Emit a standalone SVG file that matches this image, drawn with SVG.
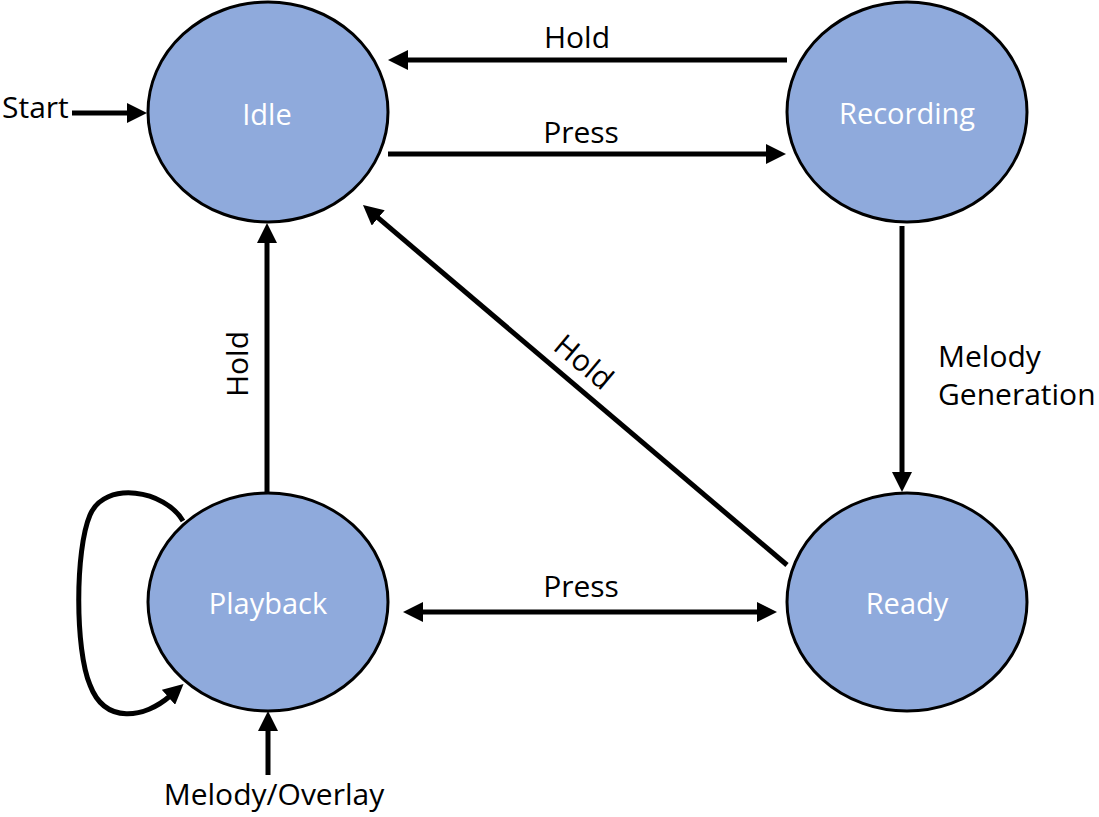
<svg xmlns="http://www.w3.org/2000/svg" width="1099" height="817" viewBox="0 0 1099 817">
  <style>
    .state { fill: #8FAADC; stroke: #000; stroke-width: 3; }
    .slabel { font-family: "Open Sans", "Liberation Sans", sans-serif; font-size: 29px; fill: #fff; text-anchor: middle; }
    .elabel { font-family: "Open Sans", "Liberation Sans", sans-serif; font-size: 30px; fill: #000; }
    .edge { stroke: #000; stroke-width: 5; fill: none; }
  </style>
  <defs>
    <marker id="arrow" viewBox="0 0 20 20" markerWidth="20" markerHeight="20" markerUnits="userSpaceOnUse" refX="2" refY="10" orient="auto-start-reverse">
      <path d="M0,0 L20,10 L0,20 z" fill="#000"/>
    </marker>
  </defs>
  <rect width="1099" height="817" fill="#fff"/>

  <g id="connectors">
    <line class="edge" x1="72" y1="113" x2="129" y2="113" marker-end="url(#arrow)"/>
    <line class="edge" x1="787" y1="60" x2="406" y2="60" marker-end="url(#arrow)"/>
    <line class="edge" x1="388" y1="154" x2="768" y2="154" marker-end="url(#arrow)"/>
    <line class="edge" x1="902" y1="226" x2="902" y2="474" marker-end="url(#arrow)"/>
    <line class="edge" x1="787" y1="565" x2="376.7" y2="216.7" marker-end="url(#arrow)"/>
    <line class="edge" x1="267" y1="494" x2="267" y2="241" marker-end="url(#arrow)"/>
    <line class="edge" x1="421" y1="612" x2="759" y2="612" marker-start="url(#arrow)" marker-end="url(#arrow)"/>
    <line class="edge" x1="268" y1="775" x2="268" y2="729" marker-end="url(#arrow)"/>
    <path class="edge" d="M 183 521 C 165 490, 105 480, 90 515 C 75 550, 75 650, 90 685 C 105 725, 145 718, 170 696" marker-end="url(#arrow)"/>
  </g>

  <g id="edge-labels">
    <text class="elabel" x="2" y="118">Start</text>
    <text class="elabel" x="577" y="48" text-anchor="middle">Hold</text>
    <text class="elabel" x="581" y="143" text-anchor="middle">Press</text>
    <text class="elabel" x="581" y="597" text-anchor="middle">Press</text>
    <text class="elabel" x="938" y="367">Melody</text>
    <text class="elabel" x="938" y="405">Generation</text>
    <text class="elabel" text-anchor="middle" transform="translate(248,364) rotate(-90)">Hold</text>
    <text class="elabel" text-anchor="middle" transform="translate(577,370) rotate(40)">Hold</text>
    <text class="elabel" x="274" y="805" text-anchor="middle">Melody/Overlay</text>
  </g>

  <g id="node-idle">
    <ellipse class="state" cx="268" cy="112" rx="120" ry="110"/>
    <text class="slabel" x="267" y="125">Idle</text>
  </g>
  <g id="node-recording">
    <ellipse class="state" cx="907" cy="112" rx="120" ry="110"/>
    <text class="slabel" x="907" y="124">Recording</text>
  </g>
  <g id="node-playback">
    <ellipse class="state" cx="268" cy="602" rx="120" ry="109"/>
    <text class="slabel" x="268" y="614">Playback</text>
  </g>
  <g id="node-ready">
    <ellipse class="state" cx="907" cy="602" rx="120" ry="109"/>
    <text class="slabel" x="907" y="614">Ready</text>
  </g>
</svg>
